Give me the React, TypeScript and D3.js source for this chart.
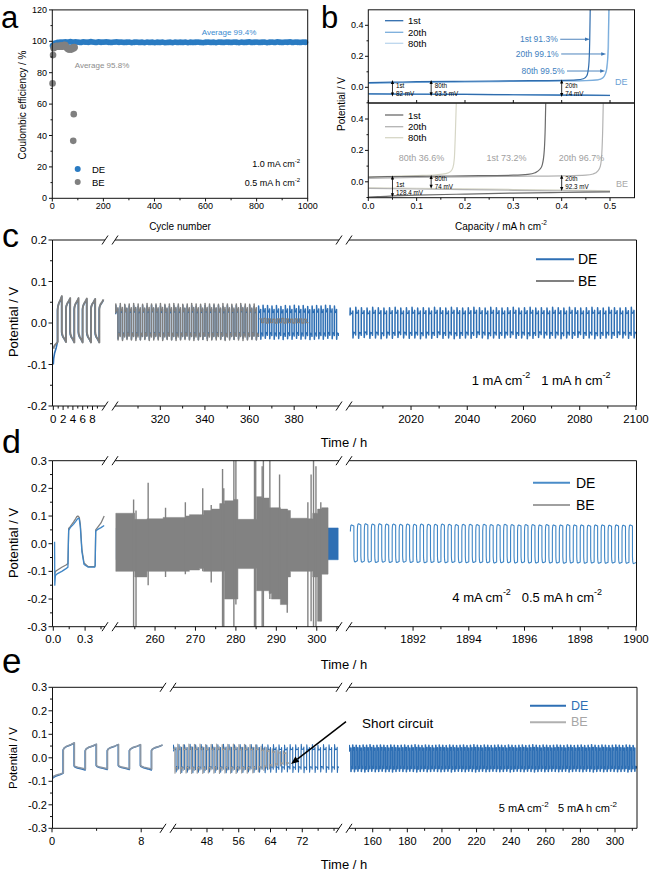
import React from 'react';
import * as d3 from 'd3';

const FONT = "'Liberation Sans', Arial, Helvetica, sans-serif";
type P = [number, number];

// ---------------- Panel a data ----------------
const aDEStep = 10;
const aDEValues = [
  97.2, 98.9, 99.3, 99.5, 99.4, 99.6, 99.5, 99.7, 99.4, 99.6,
  99.5, 99.3, 99.6, 99.5, 99.4, 99.7, 99.5, 99.3, 99.6, 99.4,
  99.5, 99.6, 99.4, 99.3, 99.5, 99.6, 99.4, 99.5, 99.3, 99.4,
  99.5, 99.2, 99.4, 99.5, 99.3, 99.4, 99.2, 99.5, 99.3, 99.4,
  99.2, 99.4, 99.3, 99.5, 99.2, 99.3, 99.4, 99.2, 99.5, 99.3,
  99.4, 99.3, 99.5, 99.2, 99.4, 99.3, 99.4, 99.5, 99.3, 99.2,
  99.4, 99.5, 99.3, 99.4, 99.2, 99.5, 99.4, 99.3, 99.5, 99.4,
  99.3, 99.5, 99.4, 99.2, 99.5, 99.3, 99.4, 99.6, 99.3, 99.4,
  99.5, 99.3, 99.4, 99.5, 99.2, 99.4, 99.5, 99.3, 99.6, 99.4,
  99.3, 99.5, 99.4, 99.6, 99.3, 99.5, 99.4, 99.3, 99.5, 99.4,
];
const aBECycles = [1, 3, 5, 7, 9, 11, 13, 15, 17, 19, 21, 23, 25, 27, 29, 31, 33, 35, 37, 39, 41, 43, 45, 47, 49, 51, 53, 55, 57, 59, 61, 63, 65, 67, 69, 71, 73, 75, 77, 79, 81, 82, 83, 84, 85, 86, 87];
const aBEValues = [73.2, 91.2, 95.5, 96.0, 96.4, 96.8, 96.3, 96.9, 97.2, 96.5, 96.7, 96.9, 97.0, 96.6, 96.8, 97.1, 97.3, 96.9, 97.0, 96.5, 96.8, 97.4, 97.6, 97.2, 97.8, 97.5, 96.8, 96.2, 95.9, 95.5, 95.3, 95.0, 94.8, 95.2, 94.9, 95.1, 95.6, 94.7, 95.3, 95.8, 96.0, 36.6, 95.4, 53.6, 95.9, 96.3, 96.0];
const aXTicks = [0, 200, 400, 600, 800, 1000];
const aYTicks = [0, 20, 40, 60, 80, 100, 120];

// ---------------- Panel b data ----------------
const bXTicks = [0, 0.1, 0.2, 0.3, 0.4, 0.5];
const bYTicks = [0, 0.2, 0.4];
const bDE1StripCap = [0, 0.05, 0.1, 0.2, 0.3, 0.4, 0.43, 0.445, 0.452, 0.456, 0.458, 0.459];
const bDE1StripV = [0.03, 0.033, 0.036, 0.039, 0.042, 0.045, 0.048, 0.055, 0.075, 0.14, 0.3, 0.5];
const bDE20StripCap = [0, 0.1, 0.2, 0.3, 0.4, 0.45, 0.475, 0.485, 0.49, 0.493, 0.496, 0.4975];
const bDE20StripV = [0.025, 0.031, 0.035, 0.038, 0.041, 0.043, 0.048, 0.06, 0.085, 0.12, 0.25, 0.5];
const bDE80StripCap = [0, 0.1, 0.2, 0.3, 0.4, 0.45, 0.475, 0.486, 0.491, 0.494, 0.497, 0.4985];
const bDE80StripV = [0.028, 0.033, 0.036, 0.039, 0.042, 0.044, 0.05, 0.065, 0.09, 0.13, 0.26, 0.5];
const bPlateCap = [0, 0.1, 0.2, 0.3, 0.4, 0.5];
const bDE1PlateV = [-0.043, -0.045, -0.046, -0.048, -0.05, -0.052];
const bDE20PlateV = [-0.042, -0.044, -0.046, -0.048, -0.05, -0.053];
const bDE80PlateV = [-0.04, -0.042, -0.045, -0.047, -0.05, -0.054];
const bBE1StripCap = [0, 0.05, 0.1, 0.2, 0.3, 0.33, 0.345, 0.355, 0.36, 0.364, 0.366, 0.367];
const bBE1StripV = [0.03, 0.033, 0.035, 0.038, 0.042, 0.047, 0.058, 0.08, 0.11, 0.2, 0.35, 0.5];
const bBE20StripCap = [0, 0.1, 0.2, 0.3, 0.4, 0.45, 0.465, 0.475, 0.48, 0.483, 0.485, 0.486];
const bBE20StripV = [0.022, 0.028, 0.032, 0.035, 0.038, 0.042, 0.05, 0.07, 0.1, 0.18, 0.35, 0.5];
const bBE80StripCap = [0, 0.05, 0.1, 0.14, 0.16, 0.17, 0.175, 0.178, 0.18, 0.182];
const bBE80StripV = [0.03, 0.035, 0.04, 0.045, 0.052, 0.065, 0.09, 0.15, 0.3, 0.5];
const bBE1PlateCap = [0, 0.02, 0.05, 0.1, 0.2, 0.3, 0.4, 0.5];
const bBE1PlateV = [-0.098, -0.094, -0.09, -0.085, -0.078, -0.072, -0.068, -0.064];
const bBE20PlateV = [-0.042, -0.046, -0.05, -0.054, -0.058, -0.061];
const bBE80PlateV = [-0.038, -0.041, -0.045, -0.049, -0.053, -0.057];
const bArrowCap = [0.05, 0.13, 0.4];
const bDEArrowHi = [0.047, 0.047, 0.05];
const bDEArrowLo = [-0.06, -0.058, -0.062];
const bDEArrowLab = [['1st', '82 mV'], ['80th', '63.5 mV'], ['20th', '74 mV']];
const bBEArrowHi = [0.04, 0.044, 0.045];
const bBEArrowLo = [-0.098, -0.045, -0.058];
const bBEArrowLab = [['1st', '128.4 mV'], ['80th', '74 mV'], ['20th', '92.3 mV']];
const bCELabels = ['1st 91.3%', '20th 99.1%', '80th 99.5%'];
const bCELabelV = [0.31, 0.215, 0.105];
const bCEArrowFrom = [0.397, 0.399, 0.411];
const bCEArrowTo = [0.4586, 0.492, 0.490];
const bBECELabels = ['80th 36.6%', '1st 73.2%', '20th 96.7%'];
const bBECECap = [0.11, 0.286, 0.441];

// ---------------- Panel c data ----------------
const cS1DEStart = [-0.1, 0.03, -0.022, 0.033, -0.022, 0.032, -0.022, 0.032, -0.022, 0.032, -0.022, 0.032];
const cS1DEEnd = [-0.046, 0.063, -0.045, 0.058, -0.046, 0.058, -0.046, 0.057, -0.046, 0.057, -0.046, 0.055];
const cS1BEStart = [-0.062, 0.032, -0.02, 0.035, -0.02, 0.034, -0.02, 0.034, -0.02, 0.034, -0.02, 0.034];
const cS1BEEnd = [-0.045, 0.065, -0.046, 0.06, -0.047, 0.06, -0.047, 0.059, -0.047, 0.058, -0.047, 0.057];
const cS2DEPos = [0.042, 0.041, 0.043, 0.041, 0.042, 0.040, 0.042, 0.041, 0.043, 0.042, 0.041, 0.042, 0.040, 0.042, 0.041, 0.043, 0.041, 0.042, 0.040, 0.041, 0.042, 0.041, 0.043, 0.042, 0.040, 0.042, 0.041, 0.042, 0.043, 0.041, 0.042, 0.040, 0.041, 0.043, 0.042, 0.041, 0.042, 0.040, 0.042, 0.041, 0.043, 0.041, 0.042, 0.040, 0.041, 0.042, 0.041, 0.043, 0.042, 0.041];
const cS2DENeg = [-0.038, -0.039, -0.037, -0.039, -0.038, -0.040, -0.038, -0.039, -0.037, -0.038, -0.039, -0.038, -0.040, -0.038, -0.039, -0.037, -0.039, -0.038, -0.040, -0.039, -0.038, -0.039, -0.037, -0.038, -0.040, -0.038, -0.039, -0.038, -0.037, -0.039, -0.038, -0.040, -0.039, -0.037, -0.038, -0.039, -0.038, -0.040, -0.038, -0.039, -0.037, -0.039, -0.038, -0.040, -0.039, -0.038, -0.039, -0.037, -0.038, -0.039];
const cS2BEPos = [0.046, 0.047, 0.045, 0.046, 0.047, 0.046, 0.045, 0.047, 0.046, 0.046, 0.047, 0.045, 0.046, 0.047, 0.046, 0.045, 0.046, 0.047, 0.046, 0.045, 0.047, 0.046, 0.046, 0.045, 0.047, 0.046, 0.045, 0.046, 0.047, 0.046, 0.045, 0.046];
const cS2BENeg = [-0.041, -0.042, -0.040, -0.041, -0.042, -0.041, -0.040, -0.042, -0.041, -0.041, -0.042, -0.040, -0.041, -0.042, -0.041, -0.040, -0.041, -0.042, -0.041, -0.040, -0.042, -0.041, -0.041, -0.040, -0.042, -0.041, -0.040, -0.041, -0.042, -0.041, -0.040, -0.041];
const cS2BEShortPos = [0.010, 0.011, 0.010, 0.009, 0.010, 0.011, 0.010, 0.009, 0.010, 0.010, 0.009];
const cS2BEShortNeg = [0.001, 0.0, 0.001, 0.0, 0.001, 0.0, 0.001, 0.0, 0.001, 0.0, 0.001];
const cS3DEPos = [0.036, 0.038, 0.037, 0.036, 0.038, 0.037, 0.036, 0.037, 0.038, 0.036, 0.037, 0.038, 0.036, 0.037, 0.036, 0.038, 0.037, 0.036, 0.038, 0.037, 0.036, 0.037, 0.038, 0.037, 0.036, 0.038, 0.037, 0.036, 0.037, 0.038, 0.036, 0.037, 0.038, 0.036, 0.037, 0.036, 0.038, 0.037, 0.036, 0.038, 0.037, 0.036, 0.037, 0.038, 0.037, 0.036, 0.038, 0.037, 0.036, 0.037, 0.038];
const cS3DENeg = [-0.036, -0.037, -0.035, -0.037, -0.036, -0.038, -0.036, -0.037, -0.035, -0.036, -0.037, -0.036, -0.038, -0.036, -0.037, -0.035, -0.037, -0.036, -0.038, -0.037, -0.036, -0.037, -0.035, -0.036, -0.038, -0.036, -0.037, -0.036, -0.035, -0.037, -0.036, -0.038, -0.037, -0.035, -0.036, -0.037, -0.036, -0.038, -0.036, -0.037, -0.035, -0.037, -0.036, -0.038, -0.037, -0.036, -0.037, -0.035, -0.036, -0.037, -0.036];

// ---------------- Panel d data ----------------
const dS1DET = [0.012, 0.013, 0.014, 0.02, 0.04, 0.08, 0.12, 0.138, 0.145, 0.16, 0.19, 0.21, 0.225, 0.235, 0.245, 0.255, 0.27, 0.29, 0.33, 0.39, 0.395, 0.4, 0.42, 0.45, 0.48];
const dS1DEV = [0.007, -0.05, -0.15, -0.115, -0.108, -0.1, -0.09, -0.085, 0.048, 0.058, 0.07, 0.08, 0.088, 0.092, 0.09, 0.06, -0.03, -0.075, -0.085, -0.085, -0.08, 0.045, 0.052, 0.058, 0.066];
const dS1BET = [0.014, 0.02, 0.04, 0.08, 0.12, 0.138, 0.145, 0.16, 0.19, 0.21, 0.222, 0.232, 0.245, 0.255, 0.27, 0.29, 0.33, 0.39, 0.395, 0.4, 0.42, 0.45, 0.48];
const dS1BEV = [-0.11, -0.1, -0.095, -0.085, -0.077, -0.072, 0.055, 0.062, 0.078, 0.09, 0.098, 0.1, 0.095, 0.07, -0.02, -0.07, -0.083, -0.083, -0.078, 0.05, 0.06, 0.075, 0.1];
const dBET = [250.3, 254.5, 255.0, 258.0, 262.0, 267.6, 268.5, 271.0, 272.0, 274.0, 276.0, 277.2, 279.5, 280.5, 284.3, 285.1, 286.4, 287.0, 288.2, 288.8, 291.0, 292.8, 293.5, 297.6, 299.0, 300.2, 301.2, 302.8];
const dBEHi = [0.11, 0.11, 0.088, 0.09, 0.095, 0.1, 0.105, 0.105, 0.12, 0.125, 0.145, 0.155, 0.16, 0.088, 0.088, 0.17, 0.165, 0.165, 0.13, 0.13, 0.125, 0.12, 0.092, 0.09, 0.11, 0.125, 0.13, 0.13];
const dBELo = [-0.1, -0.1, -0.12, -0.1, -0.1, -0.1, -0.095, -0.09, -0.1, -0.1, -0.1, -0.2, -0.2, -0.09, -0.09, -0.17, -0.17, -0.17, -0.18, -0.2, -0.22, -0.12, -0.1, -0.1, -0.12, -0.28, -0.11, -0.11];
const dSpikeT = [254.7, 255.3, 258.3, 262.6, 267.5, 271.8, 273.9, 276.7, 277.0, 279.5, 280.0, 284.6, 284.9, 286.5, 286.8, 288.4, 290.8, 292.7, 297.8, 298.6, 299.2, 299.8, 301.0];
const dSpikeHi = [0.16, 0.12, 0.22, 0.13, 0.15, 0.2, 0.14, 0.27, 0.2, 0.3, 0.3, 0.3, 0.3, 0.28, 0.3, 0.3, 0.25, 0.12, 0.15, 0.25, 0.3, 0.28, 0.15];
const dSpikeLo = [-0.3, -0.3, -0.15, -0.12, -0.11, -0.1, -0.14, -0.3, -0.3, -0.3, -0.22, -0.3, -0.3, -0.3, -0.3, -0.2, -0.2, -0.25, -0.3, -0.28, -0.3, -0.3, -0.28];
const dDEBandT = [250.4, 305.3];
const dDEBandHi = [0.057, 0.057];
const dDEBandLo = [-0.058, -0.058];
const dS3DEPos = [0.068, 0.072, 0.072, 0.071, 0.072, 0.071, 0.071, 0.070, 0.071, 0.070, 0.071, 0.070, 0.070, 0.071, 0.070, 0.069, 0.070, 0.070, 0.069, 0.070, 0.069, 0.069, 0.070, 0.069, 0.068, 0.069, 0.069, 0.068, 0.069, 0.068, 0.068, 0.069, 0.068, 0.068, 0.067, 0.068, 0.068, 0.067, 0.068, 0.067, 0.068];
const dS3DENeg = [-0.066, -0.067, -0.067, -0.068, -0.067, -0.068, -0.068, -0.067, -0.068, -0.068, -0.069, -0.068, -0.068, -0.069, -0.068, -0.069, -0.069, -0.068, -0.069, -0.069, -0.070, -0.069, -0.069, -0.070, -0.069, -0.070, -0.070, -0.069, -0.070, -0.070, -0.071, -0.070, -0.070, -0.071, -0.070, -0.071, -0.071, -0.070, -0.071, -0.071, -0.072];

// ---------------- Panel e data ----------------
const eS1DEStart = [-0.092, 0.033, -0.035, 0.03, -0.033, 0.03, -0.033, 0.03, -0.033, 0.03];
const eS1DEEnd = [-0.066, 0.062, -0.052, 0.057, -0.05, 0.056, -0.05, 0.055, -0.052, 0.054];
const eS1BEStart = [-0.085, 0.035, -0.033, 0.032, -0.032, 0.032, -0.032, 0.032, -0.032, 0.032];
const eS1BEEnd = [-0.064, 0.064, -0.048, 0.058, -0.047, 0.057, -0.047, 0.056, -0.048, 0.055];
const eS2DEPos = [0.054, 0.056, 0.055, 0.057, 0.055, 0.056, 0.054, 0.056, 0.055, 0.057, 0.056, 0.055, 0.056, 0.054, 0.056, 0.055, 0.057, 0.055, 0.056, 0.055, 0.054, 0.056, 0.055, 0.057, 0.055, 0.056, 0.054, 0.056, 0.055, 0.056];
const eS2DENeg = [-0.06, -0.062, -0.061, -0.063, -0.061, -0.062, -0.06, -0.062, -0.061, -0.063, -0.062, -0.061, -0.062, -0.06, -0.062, -0.061, -0.063, -0.061, -0.062, -0.061, -0.06, -0.062, -0.061, -0.063, -0.061, -0.062, -0.06, -0.062, -0.061, -0.062];
const eS2BEPos = [0.057, 0.058, 0.056, 0.058, 0.057, 0.058, 0.056, 0.057, 0.058, 0.056, 0.057, 0.058, 0.056, 0.057, 0.056, 0.055, 0.05, 0.044, 0.038, 0.033, 0.03];
const eS2BENeg = [-0.066, -0.067, -0.065, -0.067, -0.066, -0.067, -0.065, -0.066, -0.067, -0.065, -0.066, -0.067, -0.065, -0.066, -0.064, -0.06, -0.054, -0.047, -0.04, -0.035, -0.032];
const eS3DEPos = [0.052, 0.054, 0.053, 0.052, 0.054, 0.053, 0.055, 0.052, 0.053, 0.054, 0.053, 0.052, 0.054, 0.053, 0.052, 0.053, 0.054, 0.052, 0.053, 0.055, 0.053, 0.052, 0.054, 0.053, 0.052, 0.053, 0.054, 0.053, 0.052, 0.054, 0.053, 0.052, 0.053, 0.054, 0.052, 0.053, 0.055, 0.053, 0.052, 0.054, 0.053, 0.052, 0.053, 0.054, 0.053, 0.052, 0.054, 0.053, 0.052, 0.053, 0.054, 0.052, 0.053, 0.055, 0.053, 0.052, 0.054, 0.053, 0.052, 0.053, 0.054, 0.053, 0.052, 0.054, 0.053, 0.052, 0.053, 0.054, 0.052, 0.053, 0.055, 0.053, 0.052, 0.054, 0.053, 0.052, 0.053, 0.054, 0.053, 0.052, 0.054, 0.053, 0.052];
const eS3DENeg = [-0.058, -0.059, -0.057, -0.058, -0.06, -0.058, -0.057, -0.059, -0.058, -0.057, -0.059, -0.058, -0.06, -0.058, -0.057, -0.058, -0.059, -0.057, -0.058, -0.06, -0.058, -0.057, -0.059, -0.058, -0.057, -0.058, -0.059, -0.058, -0.057, -0.06, -0.058, -0.057, -0.058, -0.059, -0.057, -0.058, -0.06, -0.058, -0.057, -0.059, -0.058, -0.057, -0.058, -0.059, -0.058, -0.057, -0.06, -0.058, -0.057, -0.058, -0.059, -0.057, -0.058, -0.06, -0.058, -0.057, -0.059, -0.058, -0.057, -0.058, -0.059, -0.058, -0.057, -0.06, -0.058, -0.057, -0.058, -0.059, -0.057, -0.058, -0.06, -0.058, -0.057, -0.059, -0.058, -0.057, -0.058, -0.059, -0.058, -0.057, -0.06, -0.058, -0.057];

// ---------------- wave shape templates ----------------
const TPL_SPIKE: P[] = [[0, 0.5], [0.06, 1.0], [0.22, 0.62], [0.85, 0.66], [1, 0.8]];
const TPL_ROUND: P[] = [[0, 0.65], [0.05, 0.85], [0.15, 0.97], [0.35, 1.0], [1, 0.94]];
const TPL_SQUARE: P[] = [[0, 1], [1, 1]];
const RAMP_F = [0, 0.08, 0.3, 0.7, 1];
const RAMP_W = [0, 0.25, 0.5, 0.75, 1];

function rampWave(t0: number, half: number, starts: number[], ends: number[]): P[] {
  const out: P[] = [];
  starts.forEach((s, k) => {
    RAMP_F.forEach((f, j) => out.push([t0 + (k + f) * half, s + (ends[k] - s) * RAMP_W[j]]));
  });
  return out;
}

function pulseWave(t0: number, half: number, pos: number[], neg: number[], tpl: P[], posFirst = true): P[] {
  const out: P[] = [];
  let ip = 0;
  let ineg = 0;
  const n = pos.length + neg.length;
  for (let k = 0; k < n; k++) {
    const isPos = (k % 2 === 0) === posFirst;
    const p = isPos ? pos[ip++] : neg[ineg++];
    if (p === undefined) break;
    tpl.forEach(([f, m]) => out.push([t0 + (k + f) * half, p * m]));
  }
  return out;
}

const zip = (a: number[], b: number[]): P[] => a.map((v, i) => [v, b[i]]);
const fmt1 = (v: number) => v.toFixed(1);
const fmt0 = (v: number) => String(v);

// ---------------- generic broken-axis panel ----------------
type Seg = { r: [number, number]; d: [number, number]; major: number[]; minor: number[]; fmt: (v: number) => string };
type Layer =
  | { kind: 'line'; seg: number; pts: P[]; color: string; width: number }
  | { kind: 'area'; seg: number; t: number[]; hi: number[]; lo: number[]; color: string }
  | { kind: 'spike'; seg: number; t: number[]; hi: number[]; lo: number[]; color: string; width: number };

function BrokenPanel(props: {
  id: string; top: number; bottom: number; left: number; right: number;
  yDomain: [number, number]; yMajor: number[]; yMinor: number[];
  segs: Seg[]; breaks: number[]; tickFont: number; layers: Layer[];
}) {
  const { id, top, bottom, left, right, yDomain, yMajor, yMinor, segs, breaks, tickFont, layers } = props;
  const y = d3.scaleLinear().domain(yDomain).range([bottom, top]);
  const xs = segs.map((s) => d3.scaleLinear().domain(s.d).range(s.r));
  const gap = 5;
  const edges: number[] = [left];
  breaks.forEach((b) => { edges.push(b - gap, b + gap); });
  edges.push(right);
  const axisSegs: [number, number][] = [];
  for (let i = 0; i < edges.length; i += 2) axisSegs.push([edges[i], edges[i + 1]]);
  return (
    <g>
      <defs>
        {segs.map((s, i) => (
          <clipPath id={`${id}c${i}`} key={i}>
            <rect x={s.r[0]} y={top - 0.5} width={s.r[1] - s.r[0]} height={bottom - top + 1} />
          </clipPath>
        ))}
      </defs>
      {layers.map((L, i) => {
        const x = xs[L.seg];
        const cp = `url(#${id}c${L.seg})`;
        if (L.kind === 'line') {
          const path = d3.line<P>().x((p) => x(p[0])).y((p) => y(p[1]))(L.pts) || '';
          return <path key={i} d={path} fill="none" stroke={L.color} strokeWidth={L.width} strokeLinejoin="round" clipPath={cp} />;
        }
        if (L.kind === 'area') {
          const idx = L.t.map((_, j) => j);
          const path = d3.area<number>().x((j) => x(L.t[j])).y0((j) => y(L.lo[j])).y1((j) => y(L.hi[j])).curve(d3.curveStepAfter)(idx) || '';
          return <path key={i} d={path} fill={L.color} stroke={L.color} strokeWidth={0.5} clipPath={cp} />;
        }
        return (
          <g key={i} clipPath={cp}>
            {L.t.map((t, j) => (
              <line key={j} x1={x(t)} x2={x(t)} y1={y(L.hi[j])} y2={y(L.lo[j])} stroke={L.color} strokeWidth={L.width} />
            ))}
          </g>
        );
      })}
      <line x1={left} x2={left} y1={top} y2={bottom} stroke="#111" strokeWidth={1} />
      <line x1={right} x2={right} y1={top} y2={bottom} stroke="#111" strokeWidth={1} />
      {axisSegs.map(([a, b], i) => (
        <g key={i}>
          <line x1={a} x2={b} y1={top} y2={top} stroke="#111" strokeWidth={1} />
          <line x1={a} x2={b} y1={bottom} y2={bottom} stroke="#111" strokeWidth={1} />
        </g>
      ))}
      {breaks.map((b, i) => (
        <g key={i} stroke="#111" strokeWidth={1}>
          {[top, bottom].map((yy, k) => (
            <g key={k}>
              <line x1={b - gap - 3} y1={yy + 4.5} x2={b - gap + 3} y2={yy - 4.5} />
              <line x1={b + gap - 3} y1={yy + 4.5} x2={b + gap + 3} y2={yy - 4.5} />
            </g>
          ))}
        </g>
      ))}
      {yMajor.map((v, i) => (
        <g key={i}>
          <line x1={left - 4} x2={left} y1={y(v)} y2={y(v)} stroke="#111" />
          <text x={left - 5.5} y={y(v)} textAnchor="end" dominantBaseline="central" fontSize={tickFont} fill="#000">{fmt1(v)}</text>
        </g>
      ))}
      {yMinor.map((v, i) => (
        <line key={i} x1={left - 2.5} x2={left} y1={y(v)} y2={y(v)} stroke="#111" />
      ))}
      {segs.map((s, si) => (
        <g key={si}>
          {s.major.map((v, i) => (
            <g key={i}>
              <line x1={xs[si](v)} x2={xs[si](v)} y1={bottom} y2={bottom + 4} stroke="#111" />
              <text x={xs[si](v)} y={bottom + 12.5} textAnchor="middle" dominantBaseline="central" fontSize={tickFont} fill="#000">{s.fmt(v)}</text>
            </g>
          ))}
          {s.minor.map((v, i) => (
            <line key={i} x1={xs[si](v)} x2={xs[si](v)} y1={bottom} y2={bottom + 2.5} stroke="#111" />
          ))}
        </g>
      ))}
    </g>
  );
}

const Sup = ({ children, size }: { children: string; size: number }) => (
  <tspan fontSize={size} dy={-size * 0.55}>{children}</tspan>
);

// ---------------- Panel A ----------------
function PanelA() {
  const x = d3.scaleLinear().domain([0, 1000]).range([52.3, 307.7]);
  const y = d3.scaleLinear().domain([0, 120]).range([198.3, 9.9]);
  const blue = '#2a7bc2';
  const gray = '#808080';
  return (
    <g>
      {aDEValues.map((v, i) => (
        <circle key={i} cx={x(1 + i * aDEStep)} cy={y(v)} r={2.9} fill={blue} />
      ))}
      {aBECycles.map((c, i) => (
        <circle key={i} cx={x(c)} cy={y(aBEValues[i])} r={3.3} fill={gray} />
      ))}
      <rect x={52.3} y={9.9} width={255.4} height={188.4} fill="none" stroke="#111" strokeWidth={1} />
      {aYTicks.map((v, i) => (
        <g key={i}>
          <line x1={49} x2={52.3} y1={y(v)} y2={y(v)} stroke="#111" />
          <text x={47} y={y(v)} textAnchor="end" dominantBaseline="central" fontSize={9}>{v}</text>
        </g>
      ))}
      {d3.range(10, 120, 20).map((v) => (
        <line key={v} x1={50.5} x2={52.3} y1={y(v)} y2={y(v)} stroke="#111" />
      ))}
      {aXTicks.map((v, i) => (
        <g key={i}>
          <line x1={x(v)} x2={x(v)} y1={198.3} y2={201.5} stroke="#111" />
          <text x={x(v)} y={206} textAnchor="middle" dominantBaseline="central" fontSize={9}>{v}</text>
        </g>
      ))}
      {d3.range(100, 1000, 200).map((v) => (
        <line key={v} x1={x(v)} x2={x(v)} y1={198.3} y2={200.3} stroke="#111" />
      ))}
      <text transform="translate(22,105) rotate(-90)" textAnchor="middle" dominantBaseline="central" fontSize={10}>Coulombic efficiency / %</text>
      <text x={180} y={226} textAnchor="middle" dominantBaseline="central" fontSize={10}>Cycle number</text>
      <text x={229} y={32} textAnchor="middle" dominantBaseline="central" fontSize={8} fill="#3a8ad0">Average 99.4%</text>
      <text x={102} y={65.5} textAnchor="middle" dominantBaseline="central" fontSize={8} fill="#8c8c8c">Average 95.8%</text>
      <circle cx={77.7} cy={169} r={3} fill={blue} />
      <circle cx={77.7} cy={182} r={3} fill={gray} />
      <text x={92} y={169} dominantBaseline="central" fontSize={9.5}>DE</text>
      <text x={92} y={182} dominantBaseline="central" fontSize={9.5}>BE</text>
      <text x={300} y={164} textAnchor="end" fontSize={9} dominantBaseline="central">1.0 mA cm<Sup size={6}>-2</Sup></text>
      <text x={300} y={183} textAnchor="end" fontSize={9} dominantBaseline="central">0.5 mA h cm<Sup size={6}>-2</Sup></text>
      <text x={1} y={28} fontSize={31}>a</text>
    </g>
  );
}

// ---------------- Panel B ----------------
function PanelB() {
  const x = d3.scaleLinear().domain([0, 0.55]).range([368.3, 634.2]);
  const yT = d3.scaleLinear().domain([-0.1, 0.5]).range([102.8, 9.8]);
  const yB = d3.scaleLinear().domain([-0.1, 0.5]).range([197.5, 103.3]);
  const mk = (yy: d3.ScaleLinear<number, number>, cap: number[], v: number[]) =>
    d3.line<P>().x((p) => x(p[0])).y((p) => yy(p[1])).curve(d3.curveMonotoneX)(zip(cap, v)) || '';
  const deC = ['#2f6cad', '#7aaddc', '#bcd6ee'];
  const beC = ['#6b6b6b', '#b3b3b3', '#d6d6c6'];
  const legY = [20.7, 32.3, 43.3];
  const legYB = [115, 126.7, 137.7];
  const legN = ['1st', '20th', '80th'];
  const dbl = (xx: number, y1: number, y2: number, k: string) => (
    <g key={k}>
      <line x1={xx} x2={xx} y1={y1 + 2} y2={y2 - 2} stroke="#000" strokeWidth={0.8} />
      <polygon points={`${xx},${y1} ${xx - 1.6},${y1 + 4} ${xx + 1.6},${y1 + 4}`} fill="#000" />
      <polygon points={`${xx},${y2} ${xx - 1.6},${y2 - 4} ${xx + 1.6},${y2 - 4}`} fill="#000" />
    </g>
  );
  return (
    <g>
      <defs>
        <clipPath id="bTop"><rect x={368.3} y={9.8} width={266} height={93} /></clipPath>
        <clipPath id="bBot"><rect x={368.3} y={103.3} width={266} height={94.2} /></clipPath>
      </defs>
      <g clipPath="url(#bTop)" fill="none" strokeWidth={1.2}>
        <path d={mk(yT, bPlateCap, bDE80PlateV)} stroke={deC[2]} />
        <path d={mk(yT, bDE80StripCap, bDE80StripV)} stroke={deC[2]} />
        <path d={mk(yT, bPlateCap, bDE20PlateV)} stroke={deC[1]} />
        <path d={mk(yT, bDE20StripCap, bDE20StripV)} stroke={deC[1]} />
        <path d={mk(yT, bPlateCap, bDE1PlateV)} stroke={deC[0]} />
        <path d={mk(yT, bDE1StripCap, bDE1StripV)} stroke={deC[0]} />
      </g>
      <g clipPath="url(#bBot)" fill="none" strokeWidth={1.2}>
        <path d={mk(yB, bPlateCap, bBE80PlateV)} stroke={beC[2]} />
        <path d={mk(yB, bBE80StripCap, bBE80StripV)} stroke={beC[2]} />
        <path d={mk(yB, bPlateCap, bBE20PlateV)} stroke={beC[1]} />
        <path d={mk(yB, bBE20StripCap, bBE20StripV)} stroke={beC[1]} />
        <path d={mk(yB, bBE1PlateCap, bBE1PlateV)} stroke={beC[0]} />
        <path d={mk(yB, bBE1StripCap, bBE1StripV)} stroke={beC[0]} />
      </g>
      <rect x={368.3} y={9.8} width={266.2} height={187.9} fill="none" stroke="#111" />
      <line x1={368.3} x2={634.5} y1={103} y2={103} stroke="#111" strokeWidth={1.3} />
      {[yT, yB].map((yy, k) => (
        <g key={k}>
          {bYTicks.map((v, i) => (
            <g key={i}>
              <line x1={365} x2={368.3} y1={yy(v)} y2={yy(v)} stroke="#111" />
              <text x={363.5} y={yy(v)} textAnchor="end" dominantBaseline="central" fontSize={9}>{fmt1(v)}</text>
            </g>
          ))}
          {[-0.1, 0.1, 0.3].map((v, i) => (
            <line key={i} x1={366.5} x2={368.3} y1={yy(v)} y2={yy(v)} stroke="#111" />
          ))}
        </g>
      ))}
      {bXTicks.map((v, i) => (
        <g key={i}>
          <line x1={x(v)} x2={x(v)} y1={197.7} y2={201} stroke="#111" />
          <line x1={x(v)} x2={x(v)} y1={103} y2={100} stroke="#111" />
          <text x={x(v)} y={206} textAnchor="middle" dominantBaseline="central" fontSize={9}>{fmt1(v)}</text>
        </g>
      ))}
      {[0.05, 0.15, 0.25, 0.35, 0.45].map((v, i) => (
        <line key={i} x1={x(v)} x2={x(v)} y1={197.7} y2={199.7} stroke="#111" />
      ))}
      <text transform="translate(341.5,104) rotate(-90)" textAnchor="middle" dominantBaseline="central" fontSize={10}>Potential / V</text>
      <text x={501} y={226} textAnchor="middle" dominantBaseline="central" fontSize={10}>Capacity / mA h cm<Sup size={6.5}>-2</Sup></text>
      {legN.map((n, i) => (
        <g key={i}>
          <line x1={385} x2={403.3} y1={legY[i]} y2={legY[i]} stroke={deC[i]} strokeWidth={1.3} />
          <text x={408} y={legY[i]} dominantBaseline="central" fontSize={9.5}>{n}</text>
          <line x1={385} x2={403.3} y1={legYB[i]} y2={legYB[i]} stroke={beC[i]} strokeWidth={1.3} />
          <text x={408} y={legYB[i]} dominantBaseline="central" fontSize={9.5}>{n}</text>
        </g>
      ))}
      {bCELabels.map((s, i) => {
        const yy = yT(bCELabelV[i]);
        const x1 = x(bCEArrowFrom[i]);
        const x2 = x(bCEArrowTo[i]);
        return (
          <g key={i}>
            <text x={x1 - 2.5} y={yy} textAnchor="end" dominantBaseline="central" fontSize={8.5} fill="#3f7fc0">{s}</text>
            <line x1={x1} x2={x2 - 4} y1={yy} y2={yy} stroke="#3a76b5" strokeWidth={0.9} />
            <polygon points={`${x2},${yy} ${x2 - 5},${yy - 1.8} ${x2 - 5},${yy + 1.8}`} fill="#3a76b5" />
          </g>
        );
      })}
      <text x={615} y={81.7} dominantBaseline="central" fontSize={9} fill="#6a9fd4">DE</text>
      <text x={616} y={184.3} dominantBaseline="central" fontSize={9} fill="#a8a8a8">BE</text>
      {bBECELabels.map((s, i) => (
        <text key={i} x={x(bBECECap[i])} y={158.3} textAnchor="middle" dominantBaseline="central" fontSize={9} fill="#a0a0a0">{s}</text>
      ))}
      {bArrowCap.map((c, i) => dbl(x(c), yT(bDEArrowHi[i]), yT(bDEArrowLo[i]), 't' + i))}
      {bArrowCap.map((c, i) => dbl(x(c), yB(bBEArrowHi[i]), yB(bBEArrowLo[i]), 'b' + i))}
      {bDEArrowLab.map((l, i) => (
        <g key={i} fontSize={6.3}>
          <text x={x(bArrowCap[i]) + 3.5} y={85} dominantBaseline="central">{l[0]}</text>
          <text x={x(bArrowCap[i]) + 3.5} y={93.3} dominantBaseline="central">{l[1]}</text>
        </g>
      ))}
      {bBEArrowLab.map((l, i) => (
        <g key={i} fontSize={6.3}>
          <text x={x(bArrowCap[i]) + 3.5} y={i === 0 ? 184.3 : 178.3} dominantBaseline="central">{l[0]}</text>
          <text x={x(bArrowCap[i]) + 3.5} y={i === 0 ? 192.3 : 186.5} dominantBaseline="central">{l[1]}</text>
        </g>
      ))}
      <text x={321} y={28} fontSize={31}>b</text>
    </g>
  );
}

// ---------------- Panel C ----------------
const DEBLUE = '#2e6fb4';
function PanelC() {
  const segs: Seg[] = [
    { r: [52.5, 105], d: [-0.163, 10.55], major: [0, 2, 4, 6, 8], minor: [1, 3, 5, 7, 9], fmt: fmt0 },
    { r: [115, 339], d: [299.69, 400.1], major: [320, 340, 360, 380], minor: [310, 330, 350, 370, 390], fmt: fmt0 },
    { r: [349, 636.5], d: [1997.94, 2100.2], major: [2020, 2040, 2060, 2080, 2100], minor: [2010, 2030, 2050, 2070, 2090], fmt: fmt0 },
  ];
  const layers: Layer[] = [
    { kind: 'line', seg: 0, pts: rampWave(0, 0.85, cS1DEStart, cS1DEEnd), color: DEBLUE, width: 1.6 },
    { kind: 'line', seg: 0, pts: rampWave(0.05, 0.85, cS1BEStart, cS1BEEnd), color: '#808080', width: 1.9 },
    { kind: 'line', seg: 1, pts: pulseWave(300, 1, cS2DEPos, cS2DENeg, TPL_SPIKE), color: DEBLUE, width: 1.5 },
    { kind: 'line', seg: 1, pts: pulseWave(300, 1, cS2BEPos, cS2BENeg, TPL_SPIKE), color: '#808080', width: 1.5 },
    { kind: 'line', seg: 1, pts: pulseWave(364.4, 1, cS2BEShortPos, cS2BEShortNeg, TPL_SQUARE), color: '#808080', width: 1.3 },
    { kind: 'line', seg: 2, pts: pulseWave(1998.3, 1, cS3DEPos, cS3DENeg, TPL_SPIKE), color: DEBLUE, width: 1.5 },
  ];
  return (
    <g>
      <BrokenPanel id="pc" top={240} bottom={406} left={52.5} right={636.5} yDomain={[-0.2, 0.2]}
        yMajor={[-0.2, -0.1, 0, 0.1, 0.2]} yMinor={[-0.15, -0.05, 0.05, 0.15]} segs={segs} breaks={[110, 344]} tickFont={11.5} layers={layers} />
      <text transform="translate(13,322) rotate(-90)" textAnchor="middle" dominantBaseline="central" fontSize={13}>Potential / V</text>
      <text x={344} y={442} textAnchor="middle" dominantBaseline="central" fontSize={13}>Time / h</text>
      <line x1={536} x2={574} y1={259.3} y2={259.3} stroke={DEBLUE} strokeWidth={2} />
      <line x1={536} x2={574} y1={281} y2={281} stroke="#808080" strokeWidth={2} />
      <text x={578} y={259.3} dominantBaseline="central" fontSize={14}>DE</text>
      <text x={578} y={281} dominantBaseline="central" fontSize={14}>BE</text>
      <text x={610.6} y={380} textAnchor="end" dominantBaseline="central" fontSize={13}>1 mA cm<Sup size={9}>-2</Sup><tspan dy={5}>{'\u00a0\u00a0\u00a01 mA h cm'}</tspan><Sup size={9}>-2</Sup></text>
      <text x={2} y={247} fontSize={34}>c</text>
    </g>
  );
}

// ---------------- Panel D ----------------
function PanelD() {
  const segs: Seg[] = [
    { r: [52.5, 105], d: [-0.0075, 0.4877], major: [0, 0.3], minor: [0.15, 0.45], fmt: fmt1 },
    { r: [115, 339], d: [250.1, 305.5], major: [260, 270, 280, 290, 300], minor: [255, 265, 275, 285, 295, 305], fmt: fmt0 },
    { r: [349, 636.5], d: [1889.7, 1900.02], major: [1892, 1894, 1896, 1898, 1900], minor: [1891, 1893, 1895, 1897, 1899], fmt: fmt0 },
  ];
  const lblue = '#3f86c6';
  const layers: Layer[] = [
    { kind: 'line', seg: 0, pts: zip(dS1BET, dS1BEV), color: '#808080', width: 1.3 },
    { kind: 'line', seg: 0, pts: zip(dS1DET, dS1DEV), color: lblue, width: 1.3 },
    { kind: 'area', seg: 1, t: dDEBandT, hi: dDEBandHi, lo: dDEBandLo, color: DEBLUE },
    { kind: 'area', seg: 1, t: dBET, hi: dBEHi, lo: dBELo, color: '#828282' },
    { kind: 'spike', seg: 1, t: dSpikeT, hi: dSpikeHi, lo: dSpikeLo, color: '#828282', width: 1.4 },
    { kind: 'line', seg: 2, pts: pulseWave(1889.75, 0.125, dS3DEPos, dS3DENeg, TPL_ROUND), color: lblue, width: 1.1 },
  ];
  return (
    <g>
      <BrokenPanel id="pd" top={460.7} bottom={626.7} left={52.5} right={636.5} yDomain={[-0.3, 0.3]}
        yMajor={[-0.3, -0.2, -0.1, 0, 0.1, 0.2, 0.3]} yMinor={[-0.25, -0.15, -0.05, 0.05, 0.15, 0.25]} segs={segs} breaks={[110, 344]} tickFont={11.5} layers={layers} />
      <text transform="translate(13,543) rotate(-90)" textAnchor="middle" dominantBaseline="central" fontSize={13}>Potential / V</text>
      <text x={344} y={664} textAnchor="middle" dominantBaseline="central" fontSize={13}>Time / h</text>
      <line x1={533} x2={570} y1={482.7} y2={482.7} stroke="#4a8cc8" strokeWidth={2} />
      <line x1={533} x2={570} y1={505} y2={505} stroke="#808080" strokeWidth={1.5} />
      <text x={576} y={482.7} dominantBaseline="central" fontSize={14}>DE</text>
      <text x={576} y={505} dominantBaseline="central" fontSize={14}>BE</text>
      <text x={602} y={597} textAnchor="end" dominantBaseline="central" fontSize={13}>4 mA cm<Sup size={9}>-2</Sup><tspan dy={5}>{'\u00a0\u00a0\u00a00.5 mA h cm'}</tspan><Sup size={9}>-2</Sup></text>
      <text x={2} y={453} fontSize={34}>d</text>
    </g>
  );
}

// ---------------- Panel E ----------------
function PanelE() {
  const segs: Seg[] = [
    { r: [52, 163], d: [0, 9.955], major: [0, 8], minor: [4], fmt: fmt0 },
    { r: [173, 339], d: [39.44, 81.25], major: [48, 56, 64, 72], minor: [44, 52, 60, 68, 76, 80], fmt: fmt0 },
    { r: [349, 637], d: [146.3, 312.7], major: [160, 180, 200, 220, 240, 260, 280, 300], minor: [150, 170, 190, 210, 230, 250, 270, 290, 310], fmt: fmt0 },
  ];
  const begray = '#9a9a9a';
  const layers: Layer[] = [
    { kind: 'line', seg: 0, pts: rampWave(0, 0.99, eS1DEStart, eS1DEEnd), color: DEBLUE, width: 1.5 },
    { kind: 'line', seg: 0, pts: rampWave(0.03, 0.99, eS1BEStart, eS1BEEnd), color: '#8a96a4', width: 1.5 },
    { kind: 'line', seg: 1, pts: pulseWave(39.5, 0.7, eS2DEPos, eS2DENeg, TPL_SPIKE), color: DEBLUE, width: 1.1 },
    { kind: 'line', seg: 1, pts: pulseWave(39.2, 0.7, eS2BEPos, eS2BENeg, TPL_SPIKE), color: begray, width: 1.1 },
    { kind: 'line', seg: 2, pts: pulseWave(146.4, 1, eS3DEPos, eS3DENeg, TPL_SPIKE), color: DEBLUE, width: 1.6 },
  ];
  const ax1 = 346, ay1 = 721.7, ax2 = 291, ay2 = 764;
  const ang = Math.atan2(ay2 - ay1, ax2 - ax1);
  const hl = 8, hw = 3.2;
  const bx = ax2 - hl * Math.cos(ang), by = ay2 - hl * Math.sin(ang);
  return (
    <g>
      <BrokenPanel id="pe" top={687.3} bottom={828.3} left={52.5} right={637} yDomain={[-0.3, 0.3]}
        yMajor={[-0.3, -0.2, -0.1, 0, 0.1, 0.2, 0.3]} yMinor={[-0.25, -0.15, -0.05, 0.05, 0.15, 0.25]} segs={segs} breaks={[168, 344]} tickFont={11} layers={layers} />
      <text transform="translate(13,758) rotate(-90)" textAnchor="middle" dominantBaseline="central" fontSize={11.5}>Potential / V</text>
      <text x={344} y={864} textAnchor="middle" dominantBaseline="central" fontSize={13}>Time / h</text>
      <line x1={530} x2={566} y1={705.7} y2={705.7} stroke={DEBLUE} strokeWidth={2} />
      <line x1={530} x2={566} y1={722.3} y2={722.3} stroke="#b0b0b0" strokeWidth={2} />
      <text x={571} y={705.7} dominantBaseline="central" fontSize={12.5} fill={DEBLUE}>DE</text>
      <text x={571} y={722.3} dominantBaseline="central" fontSize={12.5} fill="#a6a6a6">BE</text>
      <text x={617} y={808} textAnchor="end" dominantBaseline="central" fontSize={11}>5 mA cm<Sup size={8}>-2</Sup><tspan dy={4.4}>{'\u00a0\u00a0\u00a05 mA h cm'}</tspan><Sup size={8}>-2</Sup></text>
      <text x={362} y={723.3} dominantBaseline="central" fontSize={13.5}>Short circuit</text>
      <line x1={ax1} y1={ay1} x2={bx} y2={by} stroke="#000" strokeWidth={1.5} />
      <polygon points={`${ax2},${ay2} ${bx + hw * Math.sin(ang)},${by - hw * Math.cos(ang)} ${bx - hw * Math.sin(ang)},${by + hw * Math.cos(ang)}`} fill="#000" />
      <text x={2} y={673} fontSize={35}>e</text>
    </g>
  );
}

export default function App() {
  return (
    <svg width={661} height={877} viewBox="0 0 661 877" style={{ position: 'absolute', left: 0, top: 0, background: '#fff' }} fontFamily={FONT}>
      <rect width={661} height={877} fill="#fff" />
      <PanelA />
      <PanelB />
      <PanelC />
      <PanelD />
      <PanelE />
    </svg>
  );
}
